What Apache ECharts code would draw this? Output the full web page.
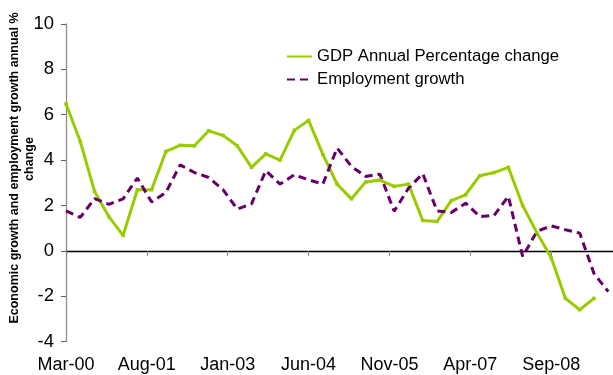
<!DOCTYPE html>
<html>
<head>
<meta charset="utf-8">
<script src="https://cdn.jsdelivr.net/npm/echarts@6/dist/echarts.min.js"></script>
<style>
html,body{margin:0;padding:0;background:#fff;}
#chart{width:613px;height:375px;}
</style>
</head>
<body>
<div id="chart"></div>
<script>
// Quarterly observation dates
const quarters = ['Mar-00','Jun-00','Sep-00','Dec-00','Mar-01','Jun-01','Sep-01','Dec-01',
  'Mar-02','Jun-02','Sep-02','Dec-02','Mar-03','Jun-03','Sep-03','Dec-03',
  'Mar-04','Jun-04','Sep-04','Dec-04','Mar-05','Jun-05','Sep-05','Dec-05',
  'Mar-06','Jun-06','Sep-06','Dec-06','Mar-07','Jun-07','Sep-07','Dec-07',
  'Mar-08','Jun-08','Sep-08','Dec-08','Mar-09','Jun-09','Sep-09'];

// GDP annual percentage change (Mar-00 .. Jun-09)
const gdp = [6.48,4.82,2.62,1.51,0.68,2.69,2.69,4.38,
  4.65,4.63,5.29,5.09,4.63,3.68,4.27,4.00,
  5.31,5.75,4.25,2.94,2.29,3.03,3.12,2.84,
  2.94,1.34,1.29,2.21,2.47,3.31,3.45,3.68,
  2.00,0.80,-0.30,-2.10,-2.60,-2.10];

// Employment growth (Mar-00 .. Sep-09)
const employment = [1.76,1.47,2.30,2.05,2.29,3.21,2.15,2.57,
  3.79,3.45,3.23,2.70,1.84,2.07,3.53,2.94,
  3.35,3.13,2.94,4.53,3.72,3.28,3.38,1.74,
  2.76,3.40,1.76,1.69,2.10,1.51,1.56,2.40,
  -0.25,0.85,1.10,0.93,0.78,-1.00,-1.80];

// Axis tick labels (every 17 months on the date axis)
const tickLabels = ['Mar-00','Aug-01','Jan-03','Jun-04','Nov-05','Apr-07','Sep-08'];
const yTicks = [-4,-2,0,2,4,6,8,10];

// Monthly date axis categories Mar-00 .. Oct-09
const monthNames = ['Jan','Feb','Mar','Apr','May','Jun','Jul','Aug','Sep','Oct','Nov','Dec'];
const categories = [];
for (let i = 0; i < 116; i++) {
  const m = 2 + i;
  categories.push(monthNames[m % 12] + '-' + String(Math.floor(m / 12)).padStart(2, '0'));
}
function toMonthly(values) {
  const arr = new Array(categories.length).fill(null);
  values.forEach((v, i) => { arr[categories.indexOf(quarters[i])] = v; });
  return arr;
}

const chart = echarts.init(document.getElementById('chart'), null, {renderer: 'canvas'});
const FONT = 'Liberation Sans, Arial, sans-serif';

chart.setOption({
  animation: false,
  grid: {left: 66, right: 0, top: 24, bottom: 33.5, containLabel: false},
  legend: {
    orient: 'vertical', left: 286, top: 48, padding: 0,
    itemWidth: 25, itemHeight: 5, itemGap: 6,
    textStyle: {fontFamily: FONT, fontSize: 16.7, color: '#000'},
    data: [
      {name: 'GDP Annual Percentage change', icon: 'path://M0,4L25,4L25,6L0,6Z'},
      {name: 'Employment growth',
       itemStyle: {color: 'rgba(0,0,0,0)', borderColor: 'rgba(0,0,0,0)', borderWidth: 0}}
    ]
  },
  xAxis: [{
    type: 'category', data: categories, boundaryGap: false, position: 'bottom',
    axisLine: {show: false, onZero: false},
    axisTick: {show: false},
    axisLabel: {
      interval: 16, margin: 15, fontFamily: FONT, fontSize: 18, color: '#000',
      formatter: v => tickLabels.includes(v) ? v : ''
    },
    splitLine: {show: false}
  }, {
    type: 'category', data: categories, boundaryGap: false, position: 'bottom',
    axisLine: {show: true, onZero: true, lineStyle: {color: '#000', width: 1.3}},
    axisTick: {show: true, interval: 16, length: 5, lineStyle: {color: '#808080', width: 1}},
    axisLabel: {show: false},
    splitLine: {show: false}
  }],
  yAxis: {
    type: 'value', min: -4, max: 10, interval: 2,
    axisLine: {show: true, lineStyle: {color: '#8c8c8c', width: 1.3}},
    axisTick: {show: true, length: 5, lineStyle: {color: '#606060'}},
    axisLabel: {fontFamily: FONT, fontSize: 18.5, color: '#000', margin: 12,
      formatter: v => yTicks.includes(v) ? String(v) : ''},
    splitLine: {show: false}
  },
  graphic: [{
    type: 'text', x: 15, y: 168, rotation: Math.PI / 2,
    style: {text: 'Economic growth and employment growth annual %', fontFamily: FONT,
      fontWeight: 'bold', fontSize: 12.5, fill: '#000', align: 'center', verticalAlign: 'middle'}
  }, {
    type: 'text', x: 30, y: 159, rotation: Math.PI / 2,
    style: {text: 'change', fontFamily: FONT,
      fontWeight: 'bold', fontSize: 12.5, fill: '#000', align: 'center', verticalAlign: 'middle'}
  }],
  series: [{
    name: 'GDP Annual Percentage change', type: 'line', data: toMonthly(gdp),
    xAxisIndex: 0, connectNulls: true, showAllSymbol: true,
    symbol: 'rect', symbolSize: 3.5,
    lineStyle: {color: '#99CC00', width: 3},
    itemStyle: {color: '#99CC00'}
  }, {
    name: 'Employment growth', type: 'line', data: toMonthly(employment),
    xAxisIndex: 0, connectNulls: true, symbol: 'none',
    lineStyle: {color: '#660066', width: 3, type: [8, 5]},
    itemStyle: {color: '#660066'}
  }]
});
</script>
</body>
</html>
